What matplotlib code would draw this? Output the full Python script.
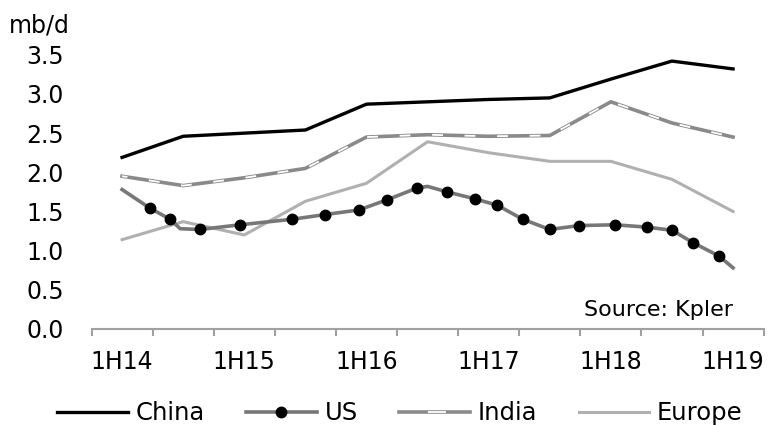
import matplotlib.pyplot as plt
import numpy as np
from matplotlib.lines import Line2D
from matplotlib.legend_handler import HandlerTuple

# half-year periods
periods = ['1H14', '2H14', '1H15', '2H15', '1H16', '2H16',
           '1H17', '2H17', '1H18', '2H18', '1H19']
china = [2.19, 2.46, 2.50, 2.54, 2.87, 2.90, 2.93, 2.95, 3.19, 3.42, 3.32]
india = [1.95, 1.83, 1.93, 2.05, 2.45, 2.48, 2.46, 2.47, 2.90, 2.63, 2.45]
europe = [1.14, 1.37, 1.20, 1.63, 1.86, 2.39, 2.25, 2.14, 2.14, 1.91, 1.50]

# US is sampled more often (position in half-year units)
us_t = [0.0, 0.46, 0.79, 0.95, 1.28, 1.93, 2.78, 3.32, 3.88, 4.34, 4.83, 5.0,
        5.32, 5.78, 6.14, 6.56, 7.0, 7.48, 8.07, 8.59, 9.0, 9.35, 9.77, 10.0]
us = [1.78, 1.54, 1.40, 1.28, 1.27, 1.33, 1.40, 1.46, 1.52, 1.65, 1.80, 1.82,
      1.75, 1.66, 1.58, 1.40, 1.27, 1.32, 1.33, 1.30, 1.26, 1.10, 0.93, 0.78]
us_no_marker = [0, 3, 11, 23]

fig = plt.figure(figsize=(7.69, 4.25), dpi=100)
ax = fig.add_axes([0.119, 0.226, 0.874, 0.645])

india_dash = (3, (6, 12))

x = np.arange(len(periods))
ax.plot(x, europe, color='#b0b0b0', lw=2.2, clip_on=False)
ax.plot(x, india, color='#8a8a8a', lw=2.6, clip_on=False)
ax.plot(x, india, color='white', lw=1.3, ls=india_dash, clip_on=False)
marked = [i for i in range(len(us)) if i not in us_no_marker]
ax.plot(us_t, us, color='#777777', lw=2.6, marker='o', ms=7.5,
        mfc='black', mec='black', markevery=marked, clip_on=False)
ax.plot(x, china, color='black', lw=2.4, clip_on=False)

ax.set_ylim(0, 3.5)
ax.set_yticks(np.arange(0, 3.51, 0.5))
ax.set_yticklabels([f'{v:.1f}' for v in np.arange(0, 3.51, 0.5)])
ax.set_xlim(-0.5, 10.5)
ax.set_xticks(x[::2])
ax.set_xticklabels(periods[::2])
ax.set_xticks(np.arange(-0.5, 11, 1), minor=True)

for s in ['top', 'right', 'left']:
    ax.spines[s].set_visible(False)
ax.spines['bottom'].set_color('#a0a0a0')
ax.spines['bottom'].set_linewidth(1.5)

ax.tick_params(axis='y', length=0, pad=20, labelsize=17)
ax.tick_params(axis='x', which='major', length=0, pad=15, labelsize=17)
ax.tick_params(axis='x', which='minor', length=5, width=1.5, color='#a0a0a0')

fig.text(0.012, 0.941, 'mb/d', fontsize=17, va='center')
ax.text(0.955, 0.07, 'Source: Kpler', transform=ax.transAxes,
        ha='right', va='center', fontsize=16)

handles = [
    Line2D([], [], color='black', lw=2.4),
    Line2D([], [], color='#777777', lw=2.6, marker='o', ms=7.5, mfc='black', mec='black'),
    (Line2D([], [], color='#8a8a8a', lw=2.6),
     Line2D([], [], color='white', lw=1.3, ls=(94, (10, 100)))),
    Line2D([], [], color='#b0b0b0', lw=2.2),
]
fig.legend(handles, ['China', 'US', 'India', 'Europe'], loc='center',
           bbox_to_anchor=(0.52, 0.028), ncol=4, frameon=False, fontsize=17.5,
           handlelength=2.9, handletextpad=0.33, columnspacing=1.7,
           handler_map={tuple: HandlerTuple(ndivide=1)})

fig.savefig('out.png', dpi=100)
